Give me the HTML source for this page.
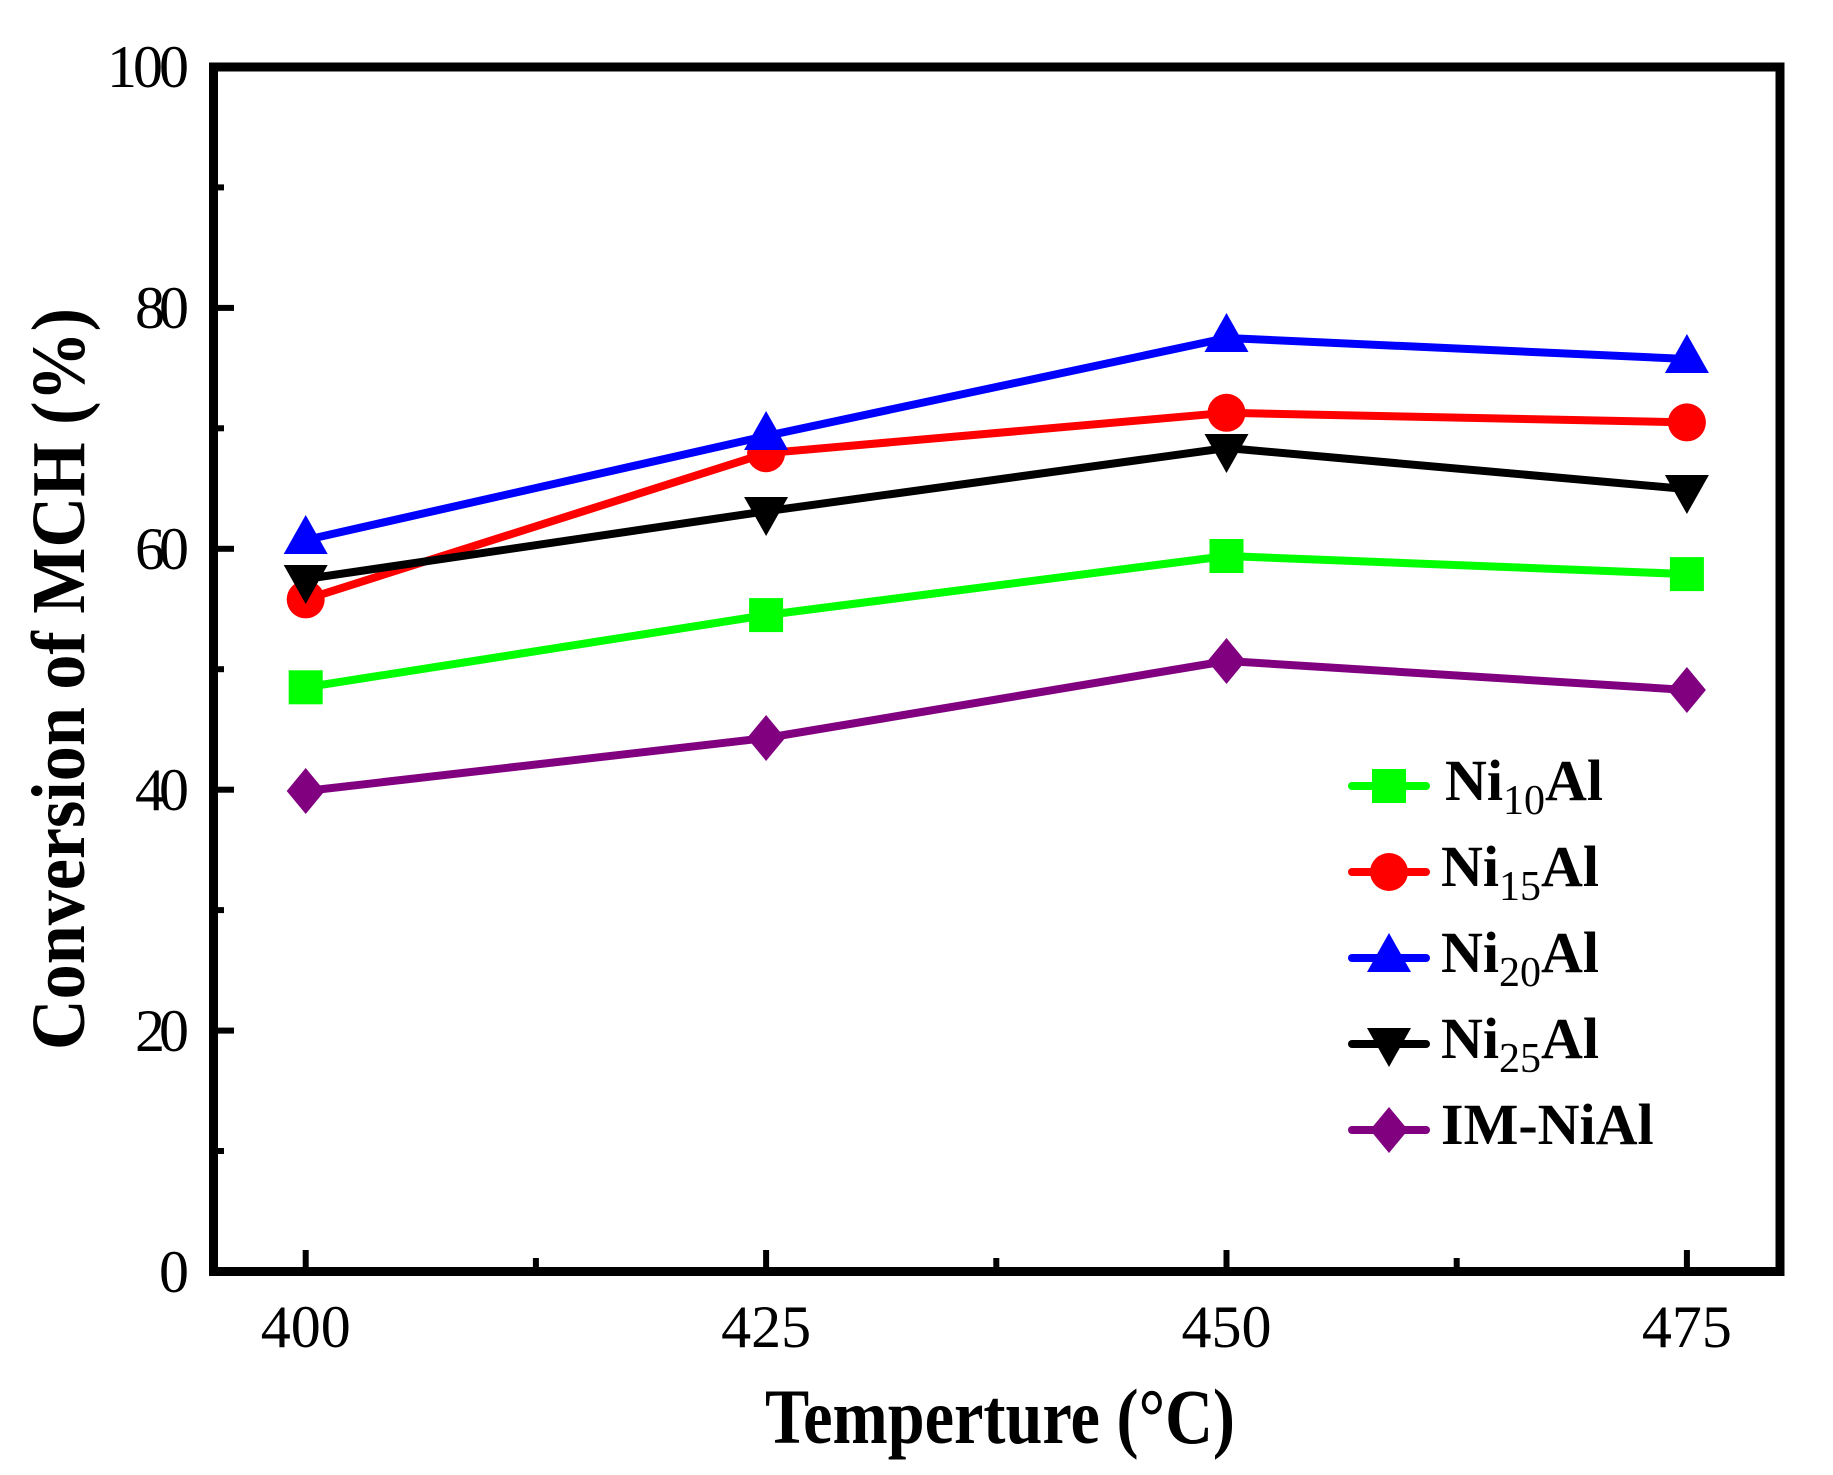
<!DOCTYPE html>
<html><head><meta charset="utf-8"><style>
html,body{margin:0;padding:0;background:#fff;}
svg{display:block;}
text{font-family:"Liberation Serif",serif;}
</style></head><body>
<svg width="1833" height="1475" viewBox="0 0 1833 1475" xmlns="http://www.w3.org/2000/svg">
<defs>
<g id="sq"><rect x="-17" y="-17" width="34" height="34"/></g>
<g id="ci"><circle r="19"/></g>
<g id="tu"><polygon points="0,-25 22,14 -22,14"/></g>
<g id="td"><polygon points="0,23 22,-16 -22,-16"/></g>
<g id="di"><polygon points="0,-23 19,0 0,23 -19,0"/></g>
</defs>
<g stroke="#000" stroke-width="6">
<line x1="218" y1="1030.6" x2="234" y2="1030.6"/>
<line x1="218" y1="789.7" x2="234" y2="789.7"/>
<line x1="218" y1="548.8" x2="234" y2="548.8"/>
<line x1="218" y1="307.9" x2="234" y2="307.9"/>
<line x1="218" y1="1151" x2="224" y2="1151"/>
<line x1="218" y1="910.1" x2="224" y2="910.1"/>
<line x1="218" y1="669.2" x2="224" y2="669.2"/>
<line x1="218" y1="428.3" x2="224" y2="428.3"/>
<line x1="218" y1="187.4" x2="224" y2="187.4"/>
<line x1="305.7" y1="1250" x2="305.7" y2="1267"/>
<line x1="766.1" y1="1250" x2="766.1" y2="1267"/>
<line x1="1226.5" y1="1250" x2="1226.5" y2="1267"/>
<line x1="1686.9" y1="1250" x2="1686.9" y2="1267"/>
<line x1="535.9" y1="1258" x2="535.9" y2="1267"/>
<line x1="996.3" y1="1258" x2="996.3" y2="1267"/>
<line x1="1456.7" y1="1258" x2="1456.7" y2="1267"/>
</g>
<rect x="213.5" y="67" width="1566.5" height="1204.5" fill="none" stroke="#000" stroke-width="9"/>
<g font-size="60" text-anchor="end">
<text x="189" y="1292" textLength="26">0</text>
<text x="189" y="1051" textLength="54">20</text>
<text x="189" y="810" textLength="54">40</text>
<text x="189" y="569" textLength="54">60</text>
<text x="189" y="328" textLength="54">80</text>
<text x="189" y="87" textLength="82">100</text>
</g>
<g font-size="60" text-anchor="middle">
<text x="305.7" y="1347">400</text>
<text x="766.1" y="1347">425</text>
<text x="1226.5" y="1347">450</text>
<text x="1686.9" y="1347">475</text>
</g>
<text x="765" y="1443" font-size="78" font-weight="bold" textLength="470" lengthAdjust="spacingAndGlyphs">Temperture (°C)</text>
<text transform="translate(84,1050) rotate(-90)" font-size="76" font-weight="bold" textLength="742" lengthAdjust="spacingAndGlyphs">Conversion of MCH  (%)</text>
<g fill="none" stroke-width="8" stroke-linejoin="round">
<polyline stroke="#00ff00" points="305.7,687.3 766.1,615.1 1226.5,556.0 1686.9,574.1"/>
<polyline stroke="#ff0000" points="305.7,599.4 766.1,453.2 1226.5,412.8 1686.9,422.4"/>
<polyline stroke="#0000ff" points="305.7,540.0 766.1,436.0 1226.5,338.0 1686.9,359.0"/>
<polyline stroke="#000000" points="305.7,579.0 766.1,511.3 1226.5,448.0 1686.9,489.1"/>
<polyline stroke="#800080" points="305.7,791.0 766.1,738.0 1226.5,661.0 1686.9,690.0"/>
</g>
<g fill="#00ff00"><use href="#sq" x="305.7" y="687.3"/><use href="#sq" x="766.1" y="615.1"/><use href="#sq" x="1226.5" y="556"/><use href="#sq" x="1686.9" y="574.1"/></g>
<g fill="#ff0000"><use href="#ci" x="305.7" y="599.4"/><use href="#ci" x="766.1" y="453.2"/><use href="#ci" x="1226.5" y="412.8"/><use href="#ci" x="1686.9" y="422.4"/></g>
<g fill="#0000ff"><use href="#tu" x="305.7" y="540"/><use href="#tu" x="766.1" y="436"/><use href="#tu" x="1226.5" y="338"/><use href="#tu" x="1686.9" y="359"/></g>
<g fill="#000"><use href="#td" x="305.7" y="581"/><use href="#td" x="766.1" y="513"/><use href="#td" x="1226.5" y="450"/><use href="#td" x="1686.9" y="491"/></g>
<g fill="#800080"><use href="#di" x="305.7" y="791"/><use href="#di" x="766.1" y="738"/><use href="#di" x="1226.5" y="661"/><use href="#di" x="1686.9" y="690"/></g>
<g stroke-width="8" stroke-linecap="round">
<line x1="1352" y1="786" x2="1426" y2="786" stroke="#00ff00"/>
<line x1="1352" y1="872" x2="1426" y2="872" stroke="#ff0000"/>
<line x1="1352" y1="958" x2="1426" y2="958" stroke="#0000ff"/>
<line x1="1352" y1="1044" x2="1426" y2="1044" stroke="#000"/>
<line x1="1352" y1="1130" x2="1426" y2="1130" stroke="#800080"/>
</g>
<use href="#sq" x="1389" y="786" fill="#00ff00"/>
<use href="#ci" x="1389" y="872" fill="#ff0000"/>
<use href="#tu" x="1389" y="958" fill="#0000ff"/>
<use href="#td" x="1389" y="1044" fill="#000"/>
<use href="#di" x="1389" y="1130" fill="#800080"/>
<g font-size="58" font-weight="bold">
<text x="1445" y="800">Ni<tspan font-size="42" font-weight="normal" dy="14">10</tspan><tspan dy="-14">Al</tspan></text>
<text x="1441" y="886">Ni<tspan font-size="42" font-weight="normal" dy="14">15</tspan><tspan dy="-14">Al</tspan></text>
<text x="1441" y="972">Ni<tspan font-size="42" font-weight="normal" dy="14">20</tspan><tspan dy="-14">Al</tspan></text>
<text x="1441" y="1058">Ni<tspan font-size="42" font-weight="normal" dy="14">25</tspan><tspan dy="-14">Al</tspan></text>
<text x="1441" y="1144">IM-NiAl</text>
</g>
</svg>
</body></html>
